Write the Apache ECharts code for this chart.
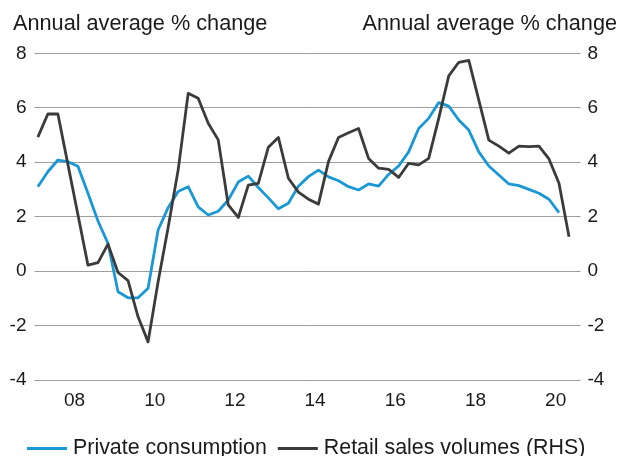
<!DOCTYPE html>
<html>
<head>
<meta charset="utf-8">
<script src="https://cdn.jsdelivr.net/npm/echarts@6/dist/echarts.min.js"></script>
<style>
html,body{margin:0;padding:0;background:#fff;}
#chart{width:622px;height:456px;}
</style>
</head>
<body>
<div id="chart"></div>
<script>
// Quarterly periods (Q1 2007 – Q2 2020)
var quarters = [
 '2007Q1','2007Q2','2007Q3','2007Q4','2008Q1','2008Q2','2008Q3','2008Q4',
 '2009Q1','2009Q2','2009Q3','2009Q4','2010Q1','2010Q2','2010Q3','2010Q4',
 '2011Q1','2011Q2','2011Q3','2011Q4','2012Q1','2012Q2','2012Q3','2012Q4',
 '2013Q1','2013Q2','2013Q3','2013Q4','2014Q1','2014Q2','2014Q3','2014Q4',
 '2015Q1','2015Q2','2015Q3','2015Q4','2016Q1','2016Q2','2016Q3','2016Q4',
 '2017Q1','2017Q2','2017Q3','2017Q4','2018Q1','2018Q2','2018Q3','2018Q4',
 '2019Q1','2019Q2','2019Q3','2019Q4','2020Q1','2020Q2'
];
// Private consumption, annual average % change (LHS)
var privateConsumption = [
 3.10,3.65,4.08,4.02,3.85,2.86,1.84,1.02,
 -0.76,-0.98,-0.98,-0.63,1.51,2.33,2.92,3.10,
 2.36,2.06,2.20,2.61,3.27,3.49,3.07,2.69,
 2.29,2.49,3.12,3.47,3.71,3.46,3.32,3.10,
 2.98,3.20,3.12,3.55,3.86,4.38,5.24,5.61,
 6.19,6.06,5.55,5.18,4.38,3.86,3.53,3.20,
 3.14,3.00,2.86,2.64,2.15
];
// Retail sales volumes, annual average % change (RHS)
var retailSales = [
 4.92,5.77,5.77,3.92,2.07,0.22,0.31,0.99,
 -0.05,-0.35,-1.68,-2.60,-0.39,1.60,3.71,6.53,
 6.35,5.43,4.82,2.43,1.97,3.16,3.22,4.55,
 4.91,3.41,2.90,2.64,2.46,4.02,4.91,5.08,
 5.24,4.14,3.78,3.74,3.44,3.96,3.90,4.14,
 5.61,7.17,7.67,7.74,6.28,4.81,4.59,4.33,
 4.59,4.57,4.59,4.12,3.23,1.26
];
var xTickYears = [2008,2010,2012,2014,2016,2018,2020];
var yTicks = [-4,-2,0,2,4,6,8];

// quarter -> fractional year (mid-quarter month)
function qToYear(q){
  var y = parseInt(q.slice(0,4),10), n = parseInt(q.slice(5),10);
  return y + (3*n-2)/12;
}
var pcData = privateConsumption.map(function(v,i){ return [qToYear(quarters[i]), v]; });
var rsData = retailSales.map(function(v,i){ return [qToYear(quarters[i]), v]; });

var FONT = 'Liberation Sans, Arial, sans-serif';
var chart = echarts.init(document.getElementById('chart'), null, {renderer:'canvas'});
chart.setOption({
  animation:false,
  backgroundColor:'#ffffff',
  title:[
    {text:'Annual average % change', left:13, top:13, padding:0,
     textStyle:{fontFamily:FONT, fontSize:21.7, fontWeight:'normal', color:'#1a1a1a'}},
    {text:'Annual average % change', right:5, top:13, padding:0,
     textStyle:{fontFamily:FONT, fontSize:21.7, fontWeight:'normal', color:'#1a1a1a'}}
  ],
  legend:{
    left:27, top:438, padding:0,
    icon:'rect', itemWidth:40, itemHeight:3, itemGap:11,
    textStyle:{fontFamily:FONT, fontSize:21.4, color:'#1a1a1a', padding:[0,0,0,1]},
    data:['Private consumption','Retail sales volumes (RHS)']
  },
  grid:{left:34.5, right:41.5, top:53.3, bottom:76, containLabel:false},
  xAxis:{
    type:'value', min:2007, max:2020.62, interval:1,
    axisLine:{show:false}, axisTick:{show:false}, splitLine:{show:false},
    axisLabel:{
      showMinLabel:true, showMaxLabel:false, margin:11,
      fontFamily:FONT, fontSize:19, color:'#1a1a1a',
      formatter:function(v){
        var y = Math.round(v);
        if (xTickYears.indexOf(y) < 0 || Math.abs(v-y) > 1e-6) return '';
        return String(y % 100).padStart(2,'0');
      }
    }
  },
  yAxis:[
    {type:'value', min:yTicks[0], max:yTicks[yTicks.length-1], interval:2, position:'left',
     axisLine:{show:false}, axisTick:{show:false},
     splitLine:{show:true, lineStyle:{color:'#9e9e9e', width:1}},
     axisLabel:{margin:8, fontFamily:FONT, fontSize:19, color:'#1a1a1a'}},
    {type:'value', min:yTicks[0], max:yTicks[yTicks.length-1], interval:2, position:'right',
     axisLine:{show:false}, axisTick:{show:false}, splitLine:{show:false},
     axisLabel:{margin:7, fontFamily:FONT, fontSize:19, color:'#1a1a1a'}}
  ],
  series:[
    {name:'Private consumption', type:'line', data:pcData, yAxisIndex:0,
     symbol:'none', color:'#1a98d5',
     lineStyle:{width:2.8, color:'#1a98d5', join:'round'}, z:2},
    {name:'Retail sales volumes (RHS)', type:'line', data:rsData, yAxisIndex:1,
     symbol:'none', color:'#3b3b3b',
     lineStyle:{width:2.8, color:'#3b3b3b', join:'round'}, z:3}
  ]
});
</script>
</body>
</html>
